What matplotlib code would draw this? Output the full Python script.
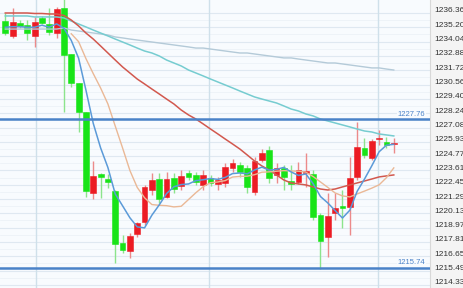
import numpy as np
import matplotlib
matplotlib.use("Agg")
import matplotlib.pyplot as plt
from matplotlib.transforms import ScaledTranslation

# candle data (open, high, low, close), one entry per bar
opens = [1235.71, 1234.50, 1235.55, 1235.39, 1234.50, 1235.96, 1235.47, 1234.74, 1236.77, 1233.04,
         1230.69, 1228.34, 1221.78, 1223.32, 1222.91, 1221.94, 1217.73, 1217.08, 1218.46, 1219.43,
         1222.02, 1222.91, 1221.46, 1222.99, 1222.35, 1223.40, 1223.24, 1222.43, 1222.99, 1222.51,
         1222.59, 1223.80, 1224.04, 1223.80, 1221.86, 1224.45, 1225.26, 1223.24, 1223.80, 1222.75,
         1222.67, 1223.40, 1223.32, 1219.99, 1218.21, 1220.16, 1220.72, 1220.64, 1223.08, 1225.43,
         1224.61, 1226.15, 1225.91, 1225.75]
highs = [1236.36, 1236.77, 1235.79, 1235.79, 1236.04, 1236.12, 1236.77, 1236.85, 1237.60, 1233.04,
         1230.69, 1228.34, 1224.37, 1223.40, 1223.32, 1222.02, 1218.38, 1218.54, 1219.43, 1222.43,
         1223.40, 1223.40, 1223.48, 1223.40, 1223.64, 1223.64, 1223.48, 1223.64, 1223.24, 1223.08,
         1224.21, 1224.53, 1224.29, 1224.04, 1224.69, 1225.34, 1225.58, 1224.21, 1224.04, 1224.04,
         1224.29, 1225.02, 1223.64, 1220.16, 1221.78, 1221.78, 1222.02, 1224.69, 1227.53, 1226.23,
         1226.15, 1226.88, 1226.31, 1226.23]
lows = [1234.58, 1234.33, 1235.15, 1234.17, 1233.61, 1235.47, 1234.58, 1234.33, 1228.34, 1230.36,
        1226.72, 1221.46, 1221.29, 1221.37, 1222.18, 1216.11, 1216.92, 1216.51, 1218.21, 1219.19,
        1221.62, 1220.97, 1221.37, 1221.78, 1222.02, 1222.83, 1222.43, 1222.02, 1222.35, 1222.02,
        1222.27, 1223.48, 1223.08, 1221.78, 1221.62, 1224.29, 1222.59, 1222.59, 1222.02, 1222.02,
        1222.51, 1222.27, 1219.59, 1215.62, 1216.60, 1219.59, 1218.94, 1218.38, 1222.83, 1224.61,
        1224.45, 1225.67, 1225.42, 1225.02]
closes = [1234.74, 1235.63, 1235.31, 1234.74, 1235.63, 1235.55, 1234.82, 1236.68, 1232.96, 1230.69,
          1228.34, 1221.94, 1223.16, 1223.08, 1222.67, 1217.65, 1217.16, 1218.30, 1219.35, 1222.27,
          1222.83, 1221.29, 1222.91, 1222.10, 1223.16, 1223.08, 1222.67, 1223.24, 1222.59, 1222.83,
          1223.88, 1224.21, 1223.48, 1222.27, 1224.37, 1225.02, 1222.99, 1223.80, 1223.08, 1222.51,
          1223.64, 1223.56, 1219.84, 1217.89, 1219.92, 1220.56, 1220.56, 1222.99, 1225.51, 1224.86,
          1225.99, 1226.23, 1225.67, 1225.83]

# moving average lines
ma_blue = [1235.20, 1235.25, 1235.25, 1235.20, 1235.21, 1235.37, 1235.21, 1235.48, 1235.13, 1234.14,
           1232.70, 1230.12, 1227.42, 1225.44, 1223.84, 1221.70, 1220.74, 1219.77, 1219.03, 1218.95,
           1219.98, 1220.81, 1221.73, 1222.28, 1222.46, 1222.51, 1222.78, 1222.85, 1222.95, 1222.88,
           1223.04, 1223.35, 1223.40, 1223.33, 1223.64, 1223.87, 1223.63, 1223.69, 1223.85, 1223.48,
           1223.20, 1223.32, 1222.53, 1221.49, 1220.97, 1220.35, 1219.75, 1220.38, 1221.91, 1222.90,
           1223.98, 1225.12, 1225.65, 1225.72]
ma_tan = [None] * 9 + [
           1234.68, 1234.04, 1232.67, 1231.45, 1230.29, 1228.99, 1227.20, 1225.43, 1223.60, 1222.23,
           1221.39, 1220.84, 1220.78, 1220.75, 1220.65, 1220.70, 1221.25, 1221.80, 1222.29, 1222.61,
           1222.67, 1222.78, 1223.07, 1223.12, 1223.14, 1223.26, 1223.46, 1223.49, 1223.54, 1223.59,
           1223.56, 1223.54, 1223.47, 1223.11, 1222.67, 1222.23, 1221.78, 1221.54, 1221.46, 1221.70,
           1221.93, 1222.17, 1222.44, 1223.02, 1223.81]
ma_red = [1236.36, 1236.36, 1236.36, 1236.36, 1236.32, 1236.32, 1236.28, 1236.28, 1236.16, 1235.79,
          1235.31, 1234.74, 1234.25, 1233.69, 1233.12, 1232.55, 1231.99, 1231.50, 1231.01, 1230.61,
          1230.20, 1229.80, 1229.39, 1228.99, 1228.50, 1228.10, 1227.77, 1227.37, 1226.96, 1226.56,
          1226.15, 1225.75, 1225.34, 1224.86, 1224.37, 1223.97, 1223.64, 1223.24, 1222.83, 1222.59,
          1222.51, 1222.43, 1222.27, 1222.10, 1222.02, 1222.10, 1222.27, 1222.43, 1222.59, 1222.75,
          1222.91, 1223.08, 1223.16, 1223.24]
ma_teal = [1236.12, 1236.12, 1236.12, 1236.12, 1236.04, 1236.04, 1236.04, 1236.04, 1235.96, 1235.71,
           1235.47, 1235.23, 1234.98, 1234.74, 1234.50, 1234.25, 1234.01, 1233.77, 1233.52, 1233.28,
           1233.12, 1232.88, 1232.55, 1232.31, 1232.07, 1231.74, 1231.50, 1231.26, 1231.01, 1230.77,
           1230.53, 1230.29, 1230.04, 1229.80, 1229.56, 1229.39, 1229.23, 1229.07, 1228.83, 1228.58,
           1228.42, 1228.18, 1228.02, 1227.77, 1227.61, 1227.45, 1227.29, 1227.13, 1226.96, 1226.80,
           1226.72, 1226.56, 1226.48, 1226.40]
ma_gray = [1235.06, 1235.06, 1235.06, 1235.06, 1235.06, 1235.06, 1235.06, 1235.06, 1235.15, 1234.98,
           1234.90, 1234.82, 1234.74, 1234.66, 1234.58, 1234.42, 1234.34, 1234.25, 1234.17, 1234.09,
           1234.01, 1233.93, 1233.85, 1233.77, 1233.69, 1233.61, 1233.52, 1233.52, 1233.44, 1233.36,
           1233.28, 1233.20, 1233.12, 1233.12, 1233.04, 1232.96, 1232.88, 1232.80, 1232.72, 1232.72,
           1232.63, 1232.55, 1232.47, 1232.39, 1232.31, 1232.31, 1232.23, 1232.15, 1232.07, 1231.99,
           1231.91, 1231.91, 1231.82, 1231.74]

yticks = [1236.36, 1235.20, 1234.04, 1232.88, 1231.72, 1230.56, 1229.40, 1228.24, 1227.08, 1225.93,
          1224.77, 1223.61, 1222.45, 1221.29, 1220.13, 1218.97, 1217.81, 1216.65, 1215.49, 1214.33]
hlines = [1227.76, 1215.74]
session_marks = [4.2, 27.8, 50.85]

plt.rcParams['font.family'] = ['Liberation Sans', 'DejaVu Sans']

fig = plt.figure(figsize=(4.64, 2.88), dpi=100, facecolor='#f4f4f4')
ax = fig.add_axes([0, 0, 430 / 464, 1])
ax.set_facecolor('#f8fbfe')

n = len(closes)
x = np.arange(n)

# grid
for v in yticks:
    ax.axhline(v, color='#dfe8f1', lw=0.8, zorder=0)
for a, b in zip(yticks[:-1], yticks[1:]):
    ax.axhline((a + b) / 2, color='#edf2f8', lw=0.6, zorder=0)
for v in session_marks:
    ax.axvline(v, color='#cfe0ea', lw=1.0, zorder=0)

# candles: red = rising, green = falling
o = np.array(opens)
c = np.array(closes)
up = c >= o
body_col = np.where(up, '#ec1c24', '#18e418')
wick_col = np.where(up, '#ec8a8a', '#8ce48c')
ax.vlines(x, lows, highs, colors=wick_col, lw=1.0, zorder=2)
bottom = np.minimum(o, c)
height = np.maximum(np.abs(c - o), 0.1)
ax.bar(x, height, bottom=bottom, width=0.8, color=body_col, edgecolor=body_col,
       linewidth=0.4, zorder=3)

# moving averages
ax.plot(x, ma_gray, color='#b4cad8', lw=1.0, zorder=4)
ax.plot(x, ma_teal, color='#76ccd0', lw=1.1, zorder=4)
ax.plot(x, ma_red, color='#d2584e', lw=1.1, zorder=4)
ma_tan_arr = np.array([np.nan if v is None else v for v in ma_tan])
ax.plot(x, ma_tan_arr, color='#eab896', lw=1.0, zorder=4)
ax.plot(x, ma_blue, color='#5b9ad8', lw=1.1, zorder=4)

# horizontal levels
for v in hlines:
    ax.axhline(v, color='#4a82c8', lw=1.8, zorder=5)
    ax.text(57.3, v + 0.12, f'{v:.2f}', color='#4a82c8', fontsize=5.5,
            ha='right', va='bottom', zorder=6,
            bbox=dict(facecolor='#f8fbfe', edgecolor='none', pad=0.5))

ax.set_xlim(-0.72, 57.94)
ax.set_ylim(1214.08, 1237.413)
ax.set_xticks([])
ax.yaxis.tick_right()
ax.set_yticks(yticks)
ax.set_yticklabels([f'{v:.2f}' for v in yticks])
ax.tick_params(axis='y', length=0, pad=3, labelsize=6.0, labelcolor='#333333')
shift = ScaledTranslation(0, 0.03, fig.dpi_scale_trans)
for lab in ax.get_yticklabels():
    lab.set_transform(lab.get_transform() + shift)
for s in ax.spines.values():
    s.set_visible(False)
ax.spines['right'].set_visible(True)
ax.spines['right'].set_color('#d8d8d8')

fig.savefig('out.png', dpi=100, facecolor=fig.get_facecolor())
